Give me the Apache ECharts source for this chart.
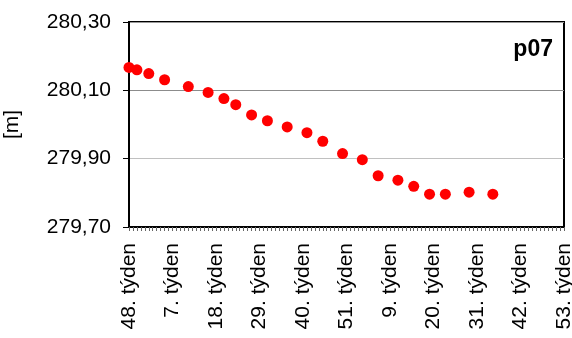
<!DOCTYPE html>
<html>
<head>
<meta charset="utf-8">
<script src="https://cdn.jsdelivr.net/npm/echarts@6/dist/echarts.min.js"></script>
<style>html,body{margin:0;padding:0;background:#fff;}#c{width:572px;height:338px;}</style>
</head>
<body>
<div id="c"></div>
<script>
// Week numbering segments of the category axis: [firstWeek, lastWeek]
var weekSegments = [[48, 52], [1, 53], [1, 53]];
// Measured points: category index on the week axis and level [m]
var pointIdx = [0, 2, 5, 9, 15, 20, 24, 27, 31, 35, 40, 45, 49, 54, 59, 63, 68, 72, 76, 80, 86, 92];
var levels = [280.167, 280.160, 280.149, 280.131, 280.111, 280.094, 280.076, 280.058, 280.028, 280.011,
              279.993, 279.976, 279.951, 279.915, 279.897, 279.850, 279.837, 279.819, 279.796, 279.796,
              279.802, 279.796];
var yTicks = [279.70, 279.90, 280.10, 280.30];
var titleText = 'p07';
var yName = '[m]';

var categories = [];
weekSegments.forEach(function (s) {
  for (var w = s[0]; w <= s[1]; w++) categories.push(w + '. týden');
});
var seriesData = pointIdx.map(function (i, k) { return [i, levels[k]]; });

var font = 'Liberation Sans, Arial, sans-serif';
var chart = echarts.init(document.getElementById('c'), null, {renderer: 'canvas'});
chart.setOption({
  animation: false,
  backgroundColor: '#fff',
  grid: {left: 129, right: 8, top: 22, bottom: 111, show: true, borderColor: '#000', borderWidth: 2,
         backgroundColor: 'transparent', containLabel: false, outerBoundsMode: 'none'},
  xAxis: {
    type: 'category',
    data: categories,
    boundaryGap: false,
    axisLine: {lineStyle: {color: '#000', width: 2}},
    axisTick: {show: true, interval: 0, length: 4, lineStyle: {color: '#666', width: 1}},
    axisLabel: {interval: 10, rotate: 90, margin: 16, color: '#000', fontFamily: font, fontSize: 21},
    splitLine: {show: false}
  },
  yAxis: {
    type: 'value',
    min: yTicks[0],
    max: yTicks[yTicks.length - 1],
    interval: 0.2,
    name: yName,
    nameLocation: 'middle',
    nameRotate: 90,
    nameGap: 106,
    nameTextStyle: {color: '#000', fontFamily: font, fontSize: 21},
    axisLine: {show: true, lineStyle: {color: '#000', width: 2}},
    axisTick: {show: true, length: 6, lineStyle: {color: '#000', width: 1}},
    axisLabel: {margin: 18, color: '#000', fontFamily: font, fontSize: 21,
      formatter: function (v) { return v.toFixed(2).replace('.', ','); }},
    splitLine: {show: true, lineStyle: {color: ['#999999', '#c0c0c0', '#8c8c8c', '#999999'], width: 1}}
  },
  graphic: [{
    type: 'text', right: 19, top: 38,
    style: {text: titleText, font: 'bold 23px ' + font, fill: '#000'}
  }],
  series: [{
    type: 'scatter',
    data: seriesData,
    symbol: 'circle',
    symbolSize: 11,
    itemStyle: {color: '#ff0000', opacity: 1}
  }]
});
</script>
</body>
</html>
